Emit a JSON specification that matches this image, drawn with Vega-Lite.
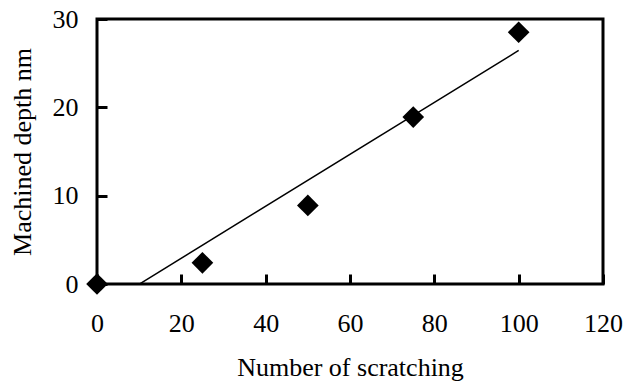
{
  "$schema": "https://vega.github.io/schema/vega-lite/v6.json",
  "autosize": "none",
  "width": 506,
  "height": 265,
  "padding": {"left": 97, "top": 19, "right": 29, "bottom": 99},
  "background": "white",
  "config": {
    "view": {"stroke": "black", "strokeWidth": 3},
    "font": "Liberation Serif"
  },
  "data": {
    "values": [
      {"n": 0, "depth": 0},
      {"n": 25, "depth": 2.4},
      {"n": 50, "depth": 8.9},
      {"n": 75, "depth": 18.9},
      {"n": 100, "depth": 28.5}
    ]
  },
  "layer": [
    {
      "mark": {"type": "point", "shape": "diamond", "filled": true, "color": "black", "opacity": 1, "size": 470, "clip": false},
      "encoding": {
        "x": {
          "field": "n",
          "type": "quantitative",
          "scale": {"domain": [0, 120], "nice": false},
          "axis": {
            "values": [0, 20, 40, 60, 80, 100, 120],
            "grid": false, "domain": false,
            "ticks": true, "tickSize": -10, "tickColor": "#000000", "tickWidth": 3, "tickOpacity": 1,
            "zindex": 1,
            "labelFlush": false, "labelOverlap": false,
            "labelFont": "Liberation Serif", "labelFontSize": 26, "labelColor": "black",
            "labelPadding": 36,
            "title": "Number of scratching",
            "titleFont": "Liberation Serif", "titleFontSize": 26, "titleFontWeight": "normal", "titleColor": "black",
            "titlePadding": 18
          }
        },
        "y": {
          "field": "depth",
          "type": "quantitative",
          "scale": {"domain": [0, 30], "nice": false},
          "axis": {
            "values": [0, 10, 20, 30],
            "grid": false, "domain": false,
            "ticks": true, "tickSize": -10, "tickColor": "#000000", "tickWidth": 3, "tickOpacity": 1,
            "zindex": 1,
            "labelFlush": false, "labelOverlap": false,
            "labelFont": "Liberation Serif", "labelFontSize": 26, "labelColor": "black",
            "labelPadding": 29,
            "title": "Machined depth  nm",
            "titleFont": "Liberation Serif", "titleFontSize": 26, "titleFontWeight": "normal", "titleColor": "black",
            "titlePadding": 17
          }
        }
      }
    },
    {
      "transform": [
        {"regression": "depth", "on": "n", "extent": [10.05, 100]}
      ],
      "mark": {"type": "line", "color": "black", "strokeWidth": 1.5},
      "encoding": {
        "x": {"field": "n", "type": "quantitative"},
        "y": {"field": "depth", "type": "quantitative"}
      }
    }
  ]
}
